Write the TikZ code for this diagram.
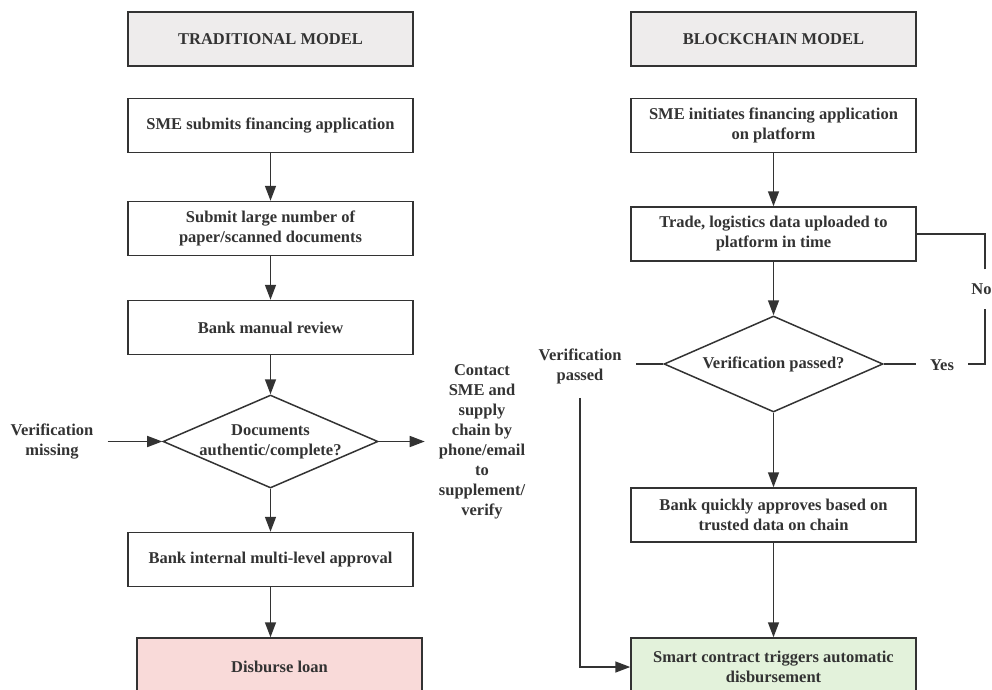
\documentclass[tikz,border=0pt]{standalone}
\usepackage{fontspec}
\setmainfont{Liberation Serif}
\usetikzlibrary{shapes.geometric,arrows.meta}
\definecolor{ink}{HTML}{333333}
\definecolor{titlegray}{HTML}{EEECEC}
\definecolor{loanpink}{HTML}{F9DAD9}
\definecolor{chaingreen}{HTML}{E3F2DB}
\begin{document}
\begin{tikzpicture}[x=1pt,y=-1pt,color=ink,
        font=\fontsize{16.5}{20}\selectfont\bfseries,
        box/.style={draw, line width=1.5pt, fill=white, align=center,
            minimum width=285pt, minimum height=54pt, inner sep=0pt},
        titlebox/.style={box, fill=titlegray},
        decision/.style={draw, shape=diamond, line width=1.5pt, inner sep=0pt},
        txt/.style={align=center, inner sep=14pt},
        link/.style={line width=1.5pt},
        flow/.style={link, -{Triangle[length=15pt,width=11pt]}}]
                \useasboundingbox (0,0) rectangle (992,689);
                \clip (0,0) rectangle (992,689);
                % traditional model
                \node[titlebox] (tl) at (270.5,39) {TRADITIONAL MODEL};
                \node[box] (l1) at (270.5,125.5) {SME submits financing application};
                \node[box] (l2) at (270.5,228.5) {Submit large number of\\paper/scanned documents};
                \node[box] (l3) at (270.5,327.5) {Bank manual review};
                \node[decision, minimum width=215pt, minimum height=93pt] (q1) at (270.5,441.5) {};
                \node[align=center] (q1txt) at (q1) {Documents\\authentic/complete?};
                \node[txt] (miss) at (52,441.5) {Verification\\missing};
                \node[txt] (contact) at (482,441.5) {Contact\\SME and\\supply\\chain by\\phone/email\\to\\supplement/\\verify};
                \node[box] (l4) at (270.5,559.5) {Bank internal multi-level approval};
                \node[box, fill=loanpink, minimum height=58pt] (l5) at (279.5,667) {Disburse loan};
                \draw[flow] (l1) -- (l2);
                \draw[flow] (l2) -- (l3);
                \draw[flow] (l3) -- (q1);
                \draw[flow] (miss) -- (q1);
                \draw[flow] (q1) -- (contact);
                \draw[flow] (q1) -- (l4);
                \draw[flow] (l4.south) -- (l4.south |- l5.north);
                % blockchain model
                \node[titlebox] (tr) at (773.5,39) {BLOCKCHAIN MODEL};
                \node[box] (r1) at (773.5,125.5) {SME initiates financing application\\on platform};
                \node[box] (r2) at (773.5,234) {Trade, logistics data uploaded to\\platform in time};
                \node[decision, minimum width=219pt, minimum height=96pt] (q2) at (773.5,364) {};
                \node (q2txt) at (q2) {Verification passed?};
                \node[txt] (pass) at (580,366) {Verification\\passed};
                \node[txt] (yes) at (942,365) {Yes};
                \node[txt] (no) at (981.5,289) {No};
                \node[box] (r3) at (773.5,515) {Bank quickly approves based on\\trusted data on chain};
                \node[box, fill=chaingreen, minimum height=58pt] (r4) at (773.5,667) {Smart contract triggers automatic\\disbursement};
                \draw[flow] (r1) -- (r2);
                \draw[flow] (r2) -- (q2);
                \draw[flow] (q2) -- (r3);
                \draw[flow] (r3) -- (r4);
                \draw[link] (q2.west) -- (q2.west -| pass.east);
                \draw[flow] (pass.south) |- (r4.west);
                \draw[link] (q2.east) -- (q2.east -| yes.west);
                \draw[link] (yes.east |- q2.east) -| ([xshift=3.5pt]no.south);
                \draw[link] ([xshift=3.5pt]no.north) |- (r2.east);
            \end{tikzpicture}
\end{document}
